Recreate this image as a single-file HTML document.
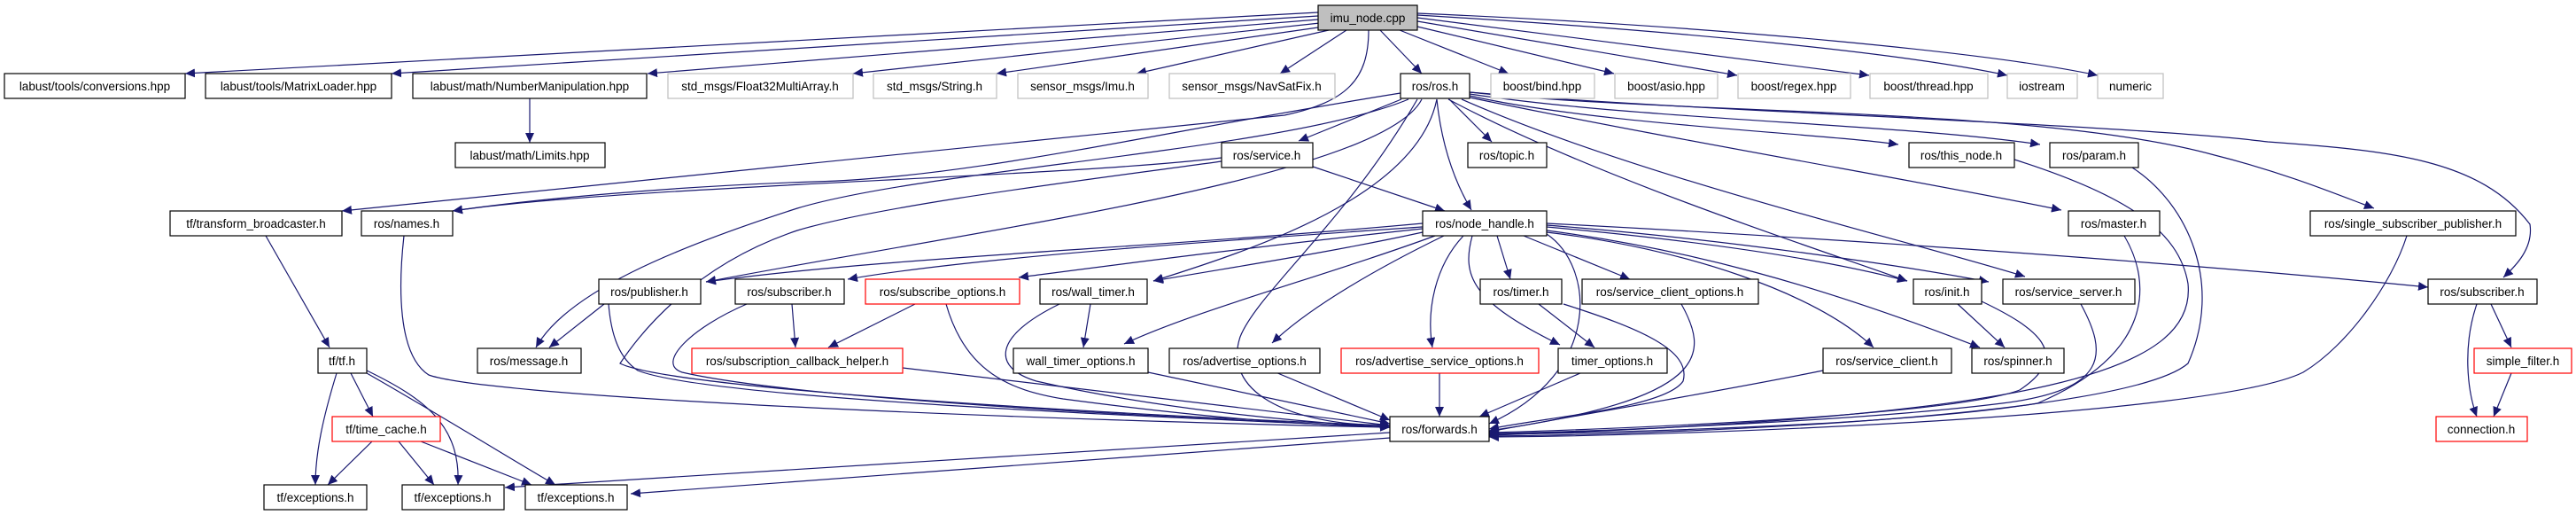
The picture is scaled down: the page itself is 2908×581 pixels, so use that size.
<!DOCTYPE html>
<html><head><meta charset="utf-8"><style>html,body{margin:0;padding:0;background:#fff}svg{display:block}text{font-family:"Liberation Sans",sans-serif;font-size:13.5px;fill:#000;text-anchor:middle}</style></head><body>
<svg width="2908" height="581" viewBox="0 0 2908 581" xmlns="http://www.w3.org/2000/svg">
<defs><marker id="a" markerWidth="12" markerHeight="10" refX="11" refY="5" orient="auto" markerUnits="userSpaceOnUse"><path d="M0,0 L11,5 L0,10 z" fill="#191970"/></marker></defs>
<g fill="none" stroke="#191970" stroke-width="1.2" marker-end="url(#a)">
<path d="M1488,14 L209,83"/>
<path d="M1488,18 L442,83"/>
<path d="M1488,22 L731,83"/>
<path d="M1490,26 L963,83"/>
<path d="M1495,30 L1125,83"/>
<path d="M1500,34 L1283,83"/>
<path d="M1520,34 L1445,83"/>
<path d="M1558,34 L1605,83"/>
<path d="M1580,34 L1703,83"/>
<path d="M1600,30 L1822,83"/>
<path d="M1600,24 L1961,85"/>
<path d="M1600,20 L2110,85"/>
<path d="M1600,17 C1900,35 2150,60 2266,85"/>
<path d="M1600,15 C1950,30 2250,60 2368,85"/>
<path d="M1545,34 C1545,90 1520,115 1450,130 L386,238"/>
<path d="M598,111 L598,161"/>
<path d="M1581,105 C1300,150 1100,200 920,205 C760,210 600,225 511,238"/>
<path d="M1582,112 L1466,159"/>
<path d="M1636,112 L1684,160"/>
<path d="M1622,112 C1628,170 1645,210 1661,237"/>
<path d="M1590,112 C1450,170 1050,190 900,235 C760,280 640,330 605,392"/>
<path d="M1605,112 C1560,200 1100,260 797,318"/>
<path d="M1622,112 C1600,220 1420,280 1302,317"/>
<path d="M1659,108 C1800,140 2050,150 2143,163"/>
<path d="M1659,106 C1850,135 2150,140 2303,163"/>
<path d="M1659,110 C1900,160 2200,210 2327,237"/>
<path d="M1659,104 C1900,130 2300,120 2500,175 C2580,195 2640,220 2680,235"/>
<path d="M1659,104 C1900,125 2400,140 2560,160 C2700,170 2800,180 2856,253 C2860,280 2840,300 2826,313"/>
<path d="M1635,112 C1800,200 2050,280 2153,317"/>
<path d="M1650,112 C1850,200 2150,270 2286,312"/>
<path d="M1600,112 C1520,250 1420,330 1400,380 C1380,440 1450,480 1569,480"/>
<path d="M1482,188 L1631,238"/>
<path d="M1379,178 C1200,200 700,210 511,238"/>
<path d="M1379,182 C1250,200 1000,230 900,260 C780,300 720,380 700,410 C760,440 1300,470 1569,480"/>
<path d="M300,266 L372,392"/>
<path d="M456,266 C450,320 448,400 484,423 C560,450 1200,475 1569,482"/>
<path d="M380,421 C365,470 356,510 356,547"/>
<path d="M396,421 L421,470"/>
<path d="M414,418 C480,450 520,480 517,547"/>
<path d="M414,421 C500,470 580,520 627,547"/>
<path d="M420,498 L370,547"/>
<path d="M450,498 L490,547"/>
<path d="M475,498 L600,547"/>
<path d="M1569,488 L570,550"/>
<path d="M1569,494 L712,557"/>
<path d="M1606,252 C1300,280 1000,290 797,318"/>
<path d="M1606,256 C1400,270 1100,290 957,315"/>
<path d="M1606,258 C1400,280 1250,300 1150,313"/>
<path d="M1606,262 C1500,285 1400,300 1302,317"/>
<path d="M1630,266 C1560,300 1480,345 1436,387"/>
<path d="M1620,266 C1500,310 1350,350 1269,388"/>
<path d="M1652,266 C1620,300 1610,350 1617,392"/>
<path d="M1690,266 L1705,315"/>
<path d="M1662,266 C1650,310 1660,340 1761,389"/>
<path d="M1720,266 L1840,315"/>
<path d="M1746,262 C1900,280 2050,330 2115,392"/>
<path d="M1746,260 C1900,280 2050,320 2235,392"/>
<path d="M1746,256 C1900,270 2050,290 2153,317"/>
<path d="M1746,254 C1950,270 2150,300 2245,318"/>
<path d="M1746,252 C2100,270 2500,300 2741,324"/>
<path d="M1746,264 C1800,300 1810,420 1681,478"/>
<path d="M687,343 C690,380 700,405 720,418 C800,450 1300,470 1569,482"/>
<path d="M843,343 C780,370 740,410 770,420 C900,450 1300,470 1569,482"/>
<path d="M1068,343 C1090,420 1140,440 1200,450 C1350,470 1450,478 1569,482"/>
<path d="M1196,343 C1120,380 1120,415 1170,430 C1300,460 1450,475 1569,482"/>
<path d="M1019,415 L1569,480"/>
<path d="M1296,420 L1569,478"/>
<path d="M1440,420 L1569,474"/>
<path d="M1625,421 L1625,470"/>
<path d="M1784,421 L1670,470"/>
<path d="M1765,343 C1850,370 1910,395 1900,430 C1880,460 1750,470 1681,484"/>
<path d="M1898,343 C1930,400 1930,450 1681,486"/>
<path d="M2058,418 C1950,440 1800,465 1681,487"/>
<path d="M2237,340 C2300,370 2340,400 2280,440 C2200,470 1800,485 1681,488"/>
<path d="M2349,343 C2380,400 2380,440 2260,455 C2100,475 1800,487 1681,489"/>
<path d="M2398,266 C2430,320 2430,400 2300,455 C2150,480 1800,489 1681,490"/>
<path d="M2274,180 C2400,220 2460,260 2470,320 C2480,420 2300,470 1681,491"/>
<path d="M2407,189 C2470,230 2510,320 2470,410 C2400,470 1900,490 1681,492"/>
<path d="M2717,266 C2700,320 2650,390 2600,420 C2500,470 1900,492 1681,493"/>
<path d="M2210,343 L2263,392"/>
<path d="M2796,343 C2780,390 2785,440 2796,470"/>
<path d="M2812,343 L2835,392"/>
<path d="M2835,421 L2815,470"/>
<path d="M894,343 L898,392"/>
<path d="M1033,343 L935,392"/>
<path d="M1231,343 L1223,392"/>
<path d="M1737,343 L1800,392"/>
<path d="M682,343 L620,392"/>
</g>
<g stroke-width="1.2">
<rect x="1488" y="6" width="112" height="28" fill="#bfbfbf" stroke="#000"/><text x="1544" y="25">imu_node.cpp</text>
<g fill="#fff" stroke="#000">
<rect x="5" y="83" width="204" height="28"/><rect x="232" y="83" width="210" height="28"/><rect x="466" y="83" width="264" height="28"/><rect x="1581" y="83" width="78" height="28"/>
<rect x="514" y="161" width="169" height="28"/><rect x="1379" y="161" width="103" height="28"/><rect x="1657" y="161" width="89" height="28"/><rect x="2155" y="161" width="119" height="28"/><rect x="2314" y="161" width="100" height="28"/>
<rect x="192" y="238" width="194" height="28"/><rect x="408" y="238" width="103" height="28"/><rect x="1606" y="238" width="140" height="28"/><rect x="2335" y="238" width="103" height="28"/><rect x="2608" y="238" width="232" height="28"/>
<rect x="676" y="315" width="115" height="28"/><rect x="830" y="315" width="123" height="28"/><rect x="1174" y="315" width="121" height="28"/><rect x="1671" y="315" width="92" height="28"/><rect x="1786" y="315" width="199" height="28"/><rect x="2160" y="315" width="77" height="28"/><rect x="2261" y="315" width="149" height="28"/><rect x="2741" y="315" width="123" height="28"/>
<rect x="359" y="393" width="55" height="28"/><rect x="539" y="393" width="117" height="28"/><rect x="1144" y="393" width="152" height="28"/><rect x="1320" y="393" width="170" height="28"/><rect x="1759" y="393" width="123" height="28"/><rect x="2058" y="393" width="145" height="28"/><rect x="2226" y="393" width="104" height="28"/>
<rect x="1569" y="470" width="112" height="28"/>
<rect x="298" y="547" width="116" height="28"/><rect x="454" y="547" width="115" height="28"/><rect x="593" y="547" width="115" height="28"/>
</g>
<g fill="#fff" stroke="#bfbfbf">
<rect x="754" y="83" width="209" height="28"/><rect x="986" y="83" width="139" height="28"/><rect x="1149" y="83" width="147" height="28"/><rect x="1320" y="83" width="187" height="28"/><rect x="1683" y="83" width="117" height="28"/><rect x="1823" y="83" width="116" height="28"/><rect x="1962" y="83" width="127" height="28"/><rect x="2111" y="83" width="133" height="28"/><rect x="2266" y="83" width="79" height="28"/><rect x="2368" y="83" width="74" height="28"/>
</g>
<g fill="#fff" stroke="#ff0000">
<rect x="977" y="315" width="174" height="28"/><rect x="781" y="393" width="238" height="28"/><rect x="1514" y="393" width="223" height="28"/><rect x="2793" y="393" width="110" height="28"/><rect x="375" y="470" width="122" height="28"/><rect x="2750" y="470" width="103" height="28"/>
</g>
</g>
<g>
<text x="107" y="102">labust/tools/conversions.hpp</text><text x="337" y="102">labust/tools/MatrixLoader.hpp</text><text x="598" y="102">labust/math/NumberManipulation.hpp</text>
<text x="858" y="102">std_msgs/Float32MultiArray.h</text><text x="1055" y="102">std_msgs/String.h</text><text x="1222" y="102">sensor_msgs/Imu.h</text><text x="1413" y="102">sensor_msgs/NavSatFix.h</text>
<text x="1620" y="102">ros/ros.h</text><text x="1741" y="102">boost/bind.hpp</text><text x="1881" y="102">boost/asio.hpp</text><text x="2025" y="102">boost/regex.hpp</text><text x="2177" y="102">boost/thread.hpp</text><text x="2305" y="102">iostream</text><text x="2405" y="102">numeric</text>
<text x="598" y="180">labust/math/Limits.hpp</text><text x="1430" y="180">ros/service.h</text><text x="1701" y="180">ros/topic.h</text><text x="2214" y="180">ros/this_node.h</text><text x="2364" y="180">ros/param.h</text>
<text x="289" y="257">tf/transform_broadcaster.h</text><text x="459" y="257">ros/names.h</text><text x="1676" y="257">ros/node_handle.h</text><text x="2386" y="257">ros/master.h</text><text x="2724" y="257">ros/single_subscriber_publisher.h</text>
<text x="733" y="334">ros/publisher.h</text><text x="891" y="334">ros/subscriber.h</text><text x="1064" y="334">ros/subscribe_options.h</text><text x="1234" y="334">ros/wall_timer.h</text><text x="1717" y="334">ros/timer.h</text><text x="1885" y="334">ros/service_client_options.h</text><text x="2198" y="334">ros/init.h</text><text x="2335" y="334">ros/service_server.h</text><text x="2802" y="334">ros/subscriber.h</text>
<text x="386" y="412">tf/tf.h</text><text x="597" y="412">ros/message.h</text><text x="900" y="412">ros/subscription_callback_helper.h</text><text x="1220" y="412">wall_timer_options.h</text><text x="1405" y="412">ros/advertise_options.h</text><text x="1625" y="412">ros/advertise_service_options.h</text><text x="1820" y="412">timer_options.h</text><text x="2130" y="412">ros/service_client.h</text><text x="2278" y="412">ros/spinner.h</text><text x="2848" y="412">simple_filter.h</text>
<text x="436" y="489">tf/time_cache.h</text><text x="1625" y="489">ros/forwards.h</text><text x="2801" y="489">connection.h</text>
<text x="356" y="566">tf/exceptions.h</text><text x="511" y="566">tf/exceptions.h</text><text x="650" y="566">tf/exceptions.h</text>
</g>
</svg>
</body></html>
